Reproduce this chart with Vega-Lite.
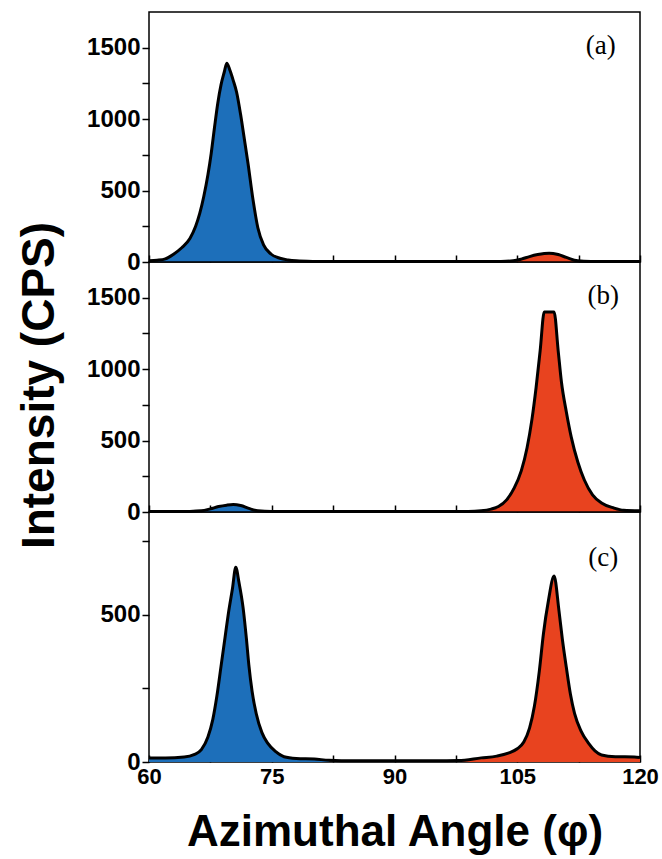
{
  "$schema": "https://vega.github.io/schema/vega-lite/v6.json",
  "padding": {"left": 15, "top": 11, "right": 5, "bottom": 5},
  "spacing": 0,
  "bounds": "flush",
  "background": "white",
  "config": {
    "view": {"stroke": "black", "strokeWidth": 1.5},
    "font": "Liberation Sans",
    "concat": {"spacing": 0},
    "axis": {
      "labelFont": "Liberation Sans", "labelFontWeight": "bold", "labelFontSize": 24, "labelColor": "black",
      "tickColor": "black", "tickWidth": 1.5, "domain": false, "grid": false,
      "titleFont": "Liberation Sans", "titleFontWeight": "bold", "titleColor": "black",
      "labelFlush": false, "labelOverlap": false
    }
  },
  "datasets": {
    "curves": [
      {"p":"a","s":"blue","x":60,"y":8},{"p":"a","s":"blue","x":61,"y":12},{"p":"a","s":"blue","x":62,"y":22},{"p":"a","s":"blue","x":63,"y":55},{"p":"a","s":"blue","x":64,"y":100},{"p":"a","s":"blue","x":65,"y":165},{"p":"a","s":"blue","x":65.7,"y":250},{"p":"a","s":"blue","x":66.2,"y":340},{"p":"a","s":"blue","x":66.7,"y":460},{"p":"a","s":"blue","x":67.2,"y":610},{"p":"a","s":"blue","x":67.6,"y":760},{"p":"a","s":"blue","x":68,"y":940},{"p":"a","s":"blue","x":68.4,"y":1110},{"p":"a","s":"blue","x":68.8,"y":1240},{"p":"a","s":"blue","x":69.2,"y":1330},{"p":"a","s":"blue","x":69.5,"y":1392},{"p":"a","s":"blue","x":69.9,"y":1340},{"p":"a","s":"blue","x":70.3,"y":1270},{"p":"a","s":"blue","x":70.7,"y":1190},{"p":"a","s":"blue","x":71.2,"y":1030},{"p":"a","s":"blue","x":71.6,"y":880},{"p":"a","s":"blue","x":72.1,"y":690},{"p":"a","s":"blue","x":72.7,"y":440},{"p":"a","s":"blue","x":73.3,"y":240},{"p":"a","s":"blue","x":74,"y":120},{"p":"a","s":"blue","x":74.9,"y":56},{"p":"a","s":"blue","x":76,"y":26},{"p":"a","s":"blue","x":77,"y":14},{"p":"a","s":"blue","x":78,"y":8},{"p":"a","s":"blue","x":80,"y":4},
      {"p":"a","s":"base","x":82,"y":3},{"p":"a","s":"base","x":86,"y":3},{"p":"a","s":"base","x":90,"y":3},{"p":"a","s":"base","x":94,"y":3},{"p":"a","s":"base","x":98,"y":3},
      {"p":"a","s":"red","x":100,"y":3},{"p":"a","s":"red","x":103,"y":4},{"p":"a","s":"red","x":104.5,"y":8},{"p":"a","s":"red","x":105.5,"y":20},{"p":"a","s":"red","x":106.5,"y":38},{"p":"a","s":"red","x":107.5,"y":52},{"p":"a","s":"red","x":108.9,"y":62},{"p":"a","s":"red","x":110,"y":52},{"p":"a","s":"red","x":111,"y":32},{"p":"a","s":"red","x":112.4,"y":8},{"p":"a","s":"red","x":114,"y":4},{"p":"a","s":"red","x":117,"y":3},{"p":"a","s":"red","x":120,"y":3},

      {"p":"b","s":"blue","x":60,"y":3},{"p":"b","s":"blue","x":63,"y":3},{"p":"b","s":"blue","x":65,"y":4},{"p":"b","s":"blue","x":66.4,"y":8},{"p":"b","s":"blue","x":67.5,"y":22},{"p":"b","s":"blue","x":68.5,"y":38},{"p":"b","s":"blue","x":69.5,"y":48},{"p":"b","s":"blue","x":70.3,"y":52},{"p":"b","s":"blue","x":71.2,"y":45},{"p":"b","s":"blue","x":72.2,"y":25},{"p":"b","s":"blue","x":73.3,"y":8},{"p":"b","s":"blue","x":75,"y":3},{"p":"b","s":"blue","x":78,"y":3},
      {"p":"b","s":"base","x":82,"y":3},{"p":"b","s":"base","x":86,"y":3},{"p":"b","s":"base","x":90,"y":3},{"p":"b","s":"base","x":94,"y":3},{"p":"b","s":"base","x":97,"y":3},
      {"p":"b","s":"red","x":99,"y":3},{"p":"b","s":"red","x":100.6,"y":8},{"p":"b","s":"red","x":101.8,"y":20},{"p":"b","s":"red","x":102.7,"y":38},{"p":"b","s":"red","x":103.7,"y":85},{"p":"b","s":"red","x":104.6,"y":165},{"p":"b","s":"red","x":105.5,"y":290},{"p":"b","s":"red","x":106.2,"y":450},{"p":"b","s":"red","x":106.8,"y":650},{"p":"b","s":"red","x":107.3,"y":870},{"p":"b","s":"red","x":107.8,"y":1130},{"p":"b","s":"red","x":108.3,"y":1400},{"p":"b","s":"red","x":108.9,"y":1400},{"p":"b","s":"red","x":109.5,"y":1400},{"p":"b","s":"red","x":110,"y":1130},{"p":"b","s":"red","x":110.4,"y":910},{"p":"b","s":"red","x":111,"y":700},{"p":"b","s":"red","x":111.6,"y":524},{"p":"b","s":"red","x":112.4,"y":350},{"p":"b","s":"red","x":113.2,"y":224},{"p":"b","s":"red","x":114.2,"y":120},{"p":"b","s":"red","x":115.3,"y":63},{"p":"b","s":"red","x":116.8,"y":28},{"p":"b","s":"red","x":118,"y":12},{"p":"b","s":"red","x":120,"y":8},

      {"p":"c","s":"blue","x":60,"y":14},{"p":"c","s":"blue","x":62,"y":14},{"p":"c","s":"blue","x":64.3,"y":17},{"p":"c","s":"blue","x":65.5,"y":25},{"p":"c","s":"blue","x":66.4,"y":42},{"p":"c","s":"blue","x":67.2,"y":85},{"p":"c","s":"blue","x":67.8,"y":145},{"p":"c","s":"blue","x":68.3,"y":225},{"p":"c","s":"blue","x":68.8,"y":325},{"p":"c","s":"blue","x":69.3,"y":425},{"p":"c","s":"blue","x":69.7,"y":505},{"p":"c","s":"blue","x":70.2,"y":590},{"p":"c","s":"blue","x":70.6,"y":662},{"p":"c","s":"blue","x":71,"y":610},{"p":"c","s":"blue","x":71.5,"y":524},{"p":"c","s":"blue","x":71.9,"y":420},{"p":"c","s":"blue","x":72.2,"y":330},{"p":"c","s":"blue","x":72.6,"y":240},{"p":"c","s":"blue","x":73.1,"y":165},{"p":"c","s":"blue","x":73.8,"y":100},{"p":"c","s":"blue","x":74.5,"y":64},{"p":"c","s":"blue","x":75.5,"y":35},{"p":"c","s":"blue","x":76.5,"y":18},{"p":"c","s":"blue","x":78,"y":12},{"p":"c","s":"blue","x":80.2,"y":10},{"p":"c","s":"blue","x":82,"y":6},
      {"p":"c","s":"base","x":85,"y":4},{"p":"c","s":"base","x":90,"y":4},{"p":"c","s":"base","x":95,"y":4},
      {"p":"c","s":"red","x":97.8,"y":5},{"p":"c","s":"red","x":100.6,"y":14},{"p":"c","s":"red","x":102.5,"y":20},{"p":"c","s":"red","x":103.9,"y":30},{"p":"c","s":"red","x":105,"y":45},{"p":"c","s":"red","x":105.8,"y":68},{"p":"c","s":"red","x":106.5,"y":115},{"p":"c","s":"red","x":107.1,"y":190},{"p":"c","s":"red","x":107.7,"y":310},{"p":"c","s":"red","x":108.2,"y":436},{"p":"c","s":"red","x":108.8,"y":547},{"p":"c","s":"red","x":109.5,"y":632},{"p":"c","s":"red","x":110.1,"y":514},{"p":"c","s":"red","x":110.5,"y":420},{"p":"c","s":"red","x":111,"y":321},{"p":"c","s":"red","x":111.5,"y":230},{"p":"c","s":"red","x":112,"y":165},{"p":"c","s":"red","x":112.8,"y":105},{"p":"c","s":"red","x":113.7,"y":64},{"p":"c","s":"red","x":114.5,"y":38},{"p":"c","s":"red","x":115.3,"y":24},{"p":"c","s":"red","x":117,"y":18},{"p":"c","s":"red","x":119.3,"y":17},{"p":"c","s":"red","x":120,"y":15}
    ],
    "labels": [
      {"p":"a","x":115.2,"y":1512,"t":"(a)"},
      {"p":"b","x":115.5,"y":1512,"t":"(b)"},
      {"p":"c","x":115.5,"y":694,"t":"(c)"}
    ]
  },
  "vconcat": [
    {
      "width": 491, "height": 250,
      "layer": [
        {"data": {"name": "curves"}, "transform": [{"filter": "datum.p == 'a' && datum.s != 'base'"}],
         "mark": {"type": "area", "interpolate": "monotone"},
         "encoding": {
           "x": {"field": "x", "type": "quantitative", "scale": {"domain": [60, 120], "nice": false, "zero": false},
                 "axis": {"values": [60, 67.5, 75, 82.5, 90, 97.5, 105, 112.5, 120], "labels": false, "title": null, "tickSize": -7}},
           "y": {"field": "y", "type": "quantitative", "stack": null, "scale": {"domain": [0, 1750], "nice": false},
                 "axis": {"values": [0, 250, 500, 750, 1000, 1250, 1500], "format": "d", "labelExpr": "datum.value % 500 == 0 ? datum.label : ''", "title": null, "tickSize": 7, "labelPadding": 2}},
           "color": {"field": "s", "type": "nominal", "scale": {"domain": ["blue", "red"], "range": ["#1d6fba", "#e8431f"]}, "legend": null}
         }},
        {"data": {"name": "curves"}, "transform": [{"filter": "datum.p == 'a'"}],
         "mark": {"type": "line", "interpolate": "monotone", "color": "black", "strokeWidth": 3},
         "encoding": {"x": {"field": "x", "type": "quantitative"}, "y": {"field": "y", "type": "quantitative"}}},
        {"data": {"name": "labels"}, "transform": [{"filter": "datum.p == 'a'"}],
         "mark": {"type": "text", "font": "Liberation Serif", "fontSize": 27, "align": "center", "baseline": "middle", "color": "black"},
         "encoding": {"x": {"field": "x", "type": "quantitative"}, "y": {"field": "y", "type": "quantitative"}, "text": {"field": "t"}}}
      ]
    },
    {
      "width": 491, "height": 250,
      "layer": [
        {"data": {"name": "curves"}, "transform": [{"filter": "datum.p == 'b' && datum.s != 'base'"}],
         "mark": {"type": "area", "interpolate": "monotone"},
         "encoding": {
           "x": {"field": "x", "type": "quantitative", "scale": {"domain": [60, 120], "nice": false, "zero": false},
                 "axis": {"values": [60, 67.5, 75, 82.5, 90, 97.5, 105, 112.5, 120], "labels": false, "title": null, "tickSize": -7}},
           "y": {"field": "y", "type": "quantitative", "stack": null, "scale": {"domain": [0, 1750], "nice": false},
                 "axis": {"values": [0, 250, 500, 750, 1000, 1250, 1500], "format": "d", "labelExpr": "datum.value % 500 == 0 ? datum.label : ''", "tickSize": 7, "labelPadding": 2,
                          "title": "Intensity (CPS)", "titleFontSize": 46, "titleAngle": 270, "titleX": -96, "titleY": 123, "titleAlign": "center", "titleBaseline": "alphabetic"}},
           "color": {"field": "s", "type": "nominal", "scale": {"domain": ["blue", "red"], "range": ["#1d6fba", "#e8431f"]}, "legend": null}
         }},
        {"data": {"name": "curves"}, "transform": [{"filter": "datum.p == 'b'"}],
         "mark": {"type": "line", "interpolate": "monotone", "color": "black", "strokeWidth": 3},
         "encoding": {"x": {"field": "x", "type": "quantitative"}, "y": {"field": "y", "type": "quantitative"}}},
        {"data": {"name": "labels"}, "transform": [{"filter": "datum.p == 'b'"}],
         "mark": {"type": "text", "font": "Liberation Serif", "fontSize": 27, "align": "center", "baseline": "middle", "color": "black"},
         "encoding": {"x": {"field": "x", "type": "quantitative"}, "y": {"field": "y", "type": "quantitative"}, "text": {"field": "t"}}}
      ]
    },
    {
      "width": 491, "height": 250,
      "layer": [
        {"data": {"name": "curves"}, "transform": [{"filter": "datum.p == 'c' && datum.s != 'base'"}],
         "mark": {"type": "area", "interpolate": "monotone"},
         "encoding": {
           "x": {"field": "x", "type": "quantitative", "scale": {"domain": [60, 120], "nice": false, "zero": false},
                 "axis": {"values": [60, 67.5, 75, 82.5, 90, 97.5, 105, 112.5, 120], "labelExpr": "datum.value % 15 == 0 ? datum.label : ''", "tickSize": -7, "labelPadding": 11, "labelFontSize": 22,
                          "title": "Azimuthal Angle (φ)", "titleFontSize": 44, "titlePadding": 23}},
           "y": {"field": "y", "type": "quantitative", "stack": null, "scale": {"domain": [0, 850], "nice": false},
                 "axis": {"values": [0, 250, 500, 750], "format": "d", "labelExpr": "datum.value % 500 == 0 ? datum.label : ''", "title": null, "tickSize": 7, "labelPadding": 2}},
           "color": {"field": "s", "type": "nominal", "scale": {"domain": ["blue", "red"], "range": ["#1d6fba", "#e8431f"]}, "legend": null}
         }},
        {"data": {"name": "curves"}, "transform": [{"filter": "datum.p == 'c'"}],
         "mark": {"type": "line", "interpolate": "monotone", "color": "black", "strokeWidth": 3},
         "encoding": {"x": {"field": "x", "type": "quantitative"}, "y": {"field": "y", "type": "quantitative"}}},
        {"data": {"name": "labels"}, "transform": [{"filter": "datum.p == 'c'"}],
         "mark": {"type": "text", "font": "Liberation Serif", "fontSize": 27, "align": "center", "baseline": "middle", "color": "black"},
         "encoding": {"x": {"field": "x", "type": "quantitative"}, "y": {"field": "y", "type": "quantitative"}, "text": {"field": "t"}}}
      ]
    }
  ]
}
